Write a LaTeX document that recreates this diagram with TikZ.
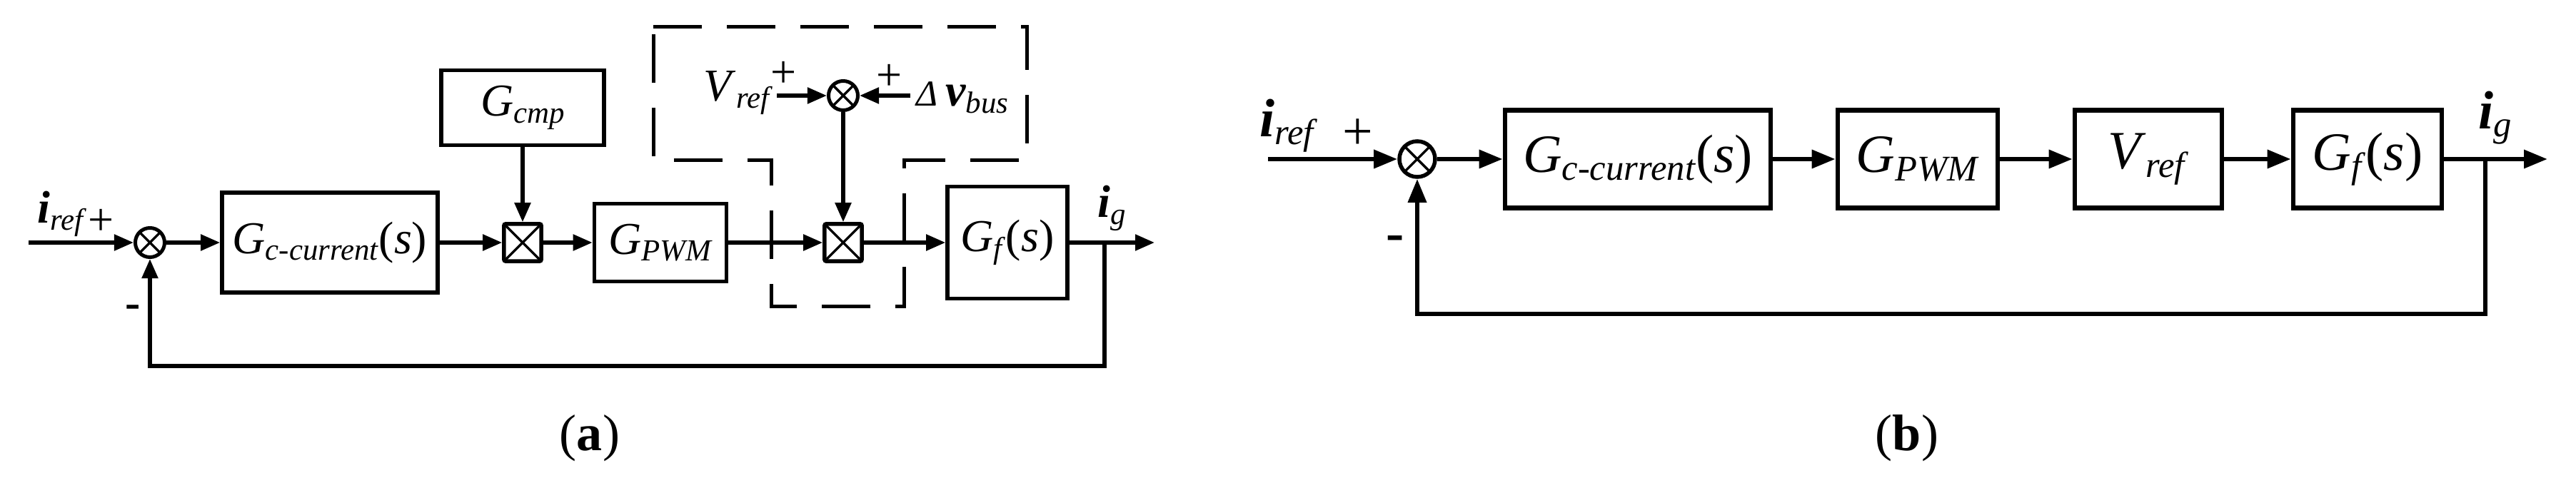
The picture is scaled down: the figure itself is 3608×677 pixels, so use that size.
\documentclass[tikz,border=0pt]{standalone}
\usepackage{fontspec}
\setmainfont{Liberation Serif}
\usepackage{graphicx}
\usetikzlibrary{arrows.meta, positioning}
\newcommand{\lowsub}[1]{\raisebox{-0.15em}{\scalebox{0.67}{\textit{#1}}}}
\newcommand{\bi}[1]{{\bfseries\itshape #1}}

\begin{document}
\begin{tikzpicture}[x=0.01cm, y=-0.01cm, every node/.style={inner sep=0pt},
  txtA/.style={font=\fontsize{18.2}{20}\selectfont},
  txtB/.style={font=\fontsize{21.5}{24}\selectfont},
  lineA/.style={line width=0.052cm, -{Triangle[length=0.27cm, width=0.22cm]}},
  lineB/.style={line width=0.064cm, -{Triangle[length=0.33cm, width=0.25cm]}},
  blkA/.style={draw, rectangle, line width=0.055cm, txtA},
  blkB/.style={draw, rectangle, line width=0.065cm, txtB},
  crossing/.style={path picture={\draw[line width=0.035cm]
    (path picture bounding box.south west) -- (path picture bounding box.north east)
    (path picture bounding box.north west) -- (path picture bounding box.south east);}},
  sumA/.style={draw, circle, line width=0.05cm, minimum size=0.41cm, crossing},
  sumB/.style={draw, circle, line width=0.055cm, minimum size=0.50cm, crossing},
  mulA/.style={draw, rectangle, rounded corners=0.02cm, line width=0.055cm, minimum size=0.52cm, crossing},
  dashA/.style={line width=0.05cm, dash pattern=on 0.68cm off 0.35cm}]
  \useasboundingbox (0,0) rectangle (3608,677);

  \coordinate (inA) at (40,340);
  \node[sumA] (s1) at (210,340) {};
  \node[blkA, minimum width=3.02cm, minimum height=1.40cm] (gc) at (462,340) {\textit{G}\lowsub{c-current}(\textit{s})};
  \node[mulA] (m1) at (732,340) {};
  \node[blkA, minimum width=2.28cm, minimum height=1.05cm] (gcmp) at (732,151) {\textit{G}\lowsub{cmp}};
  \node[blkA, minimum width=1.85cm, minimum height=1.09cm] (gpwm) at (925,340) {\textit{G}\lowsub{PWM}};
  \node[mulA] (m2) at (1181,340) {};
  \node[sumA] (s2) at (1181,134) {};
  \node[blkA, minimum width=1.68cm, minimum height=1.57cm] (gf) at (1411,340) {\textit{G}\lowsub{f}(\textit{s})};
  \coordinate (brA) at (1547,340);
  \coordinate (outA) at (1617,340);
  \coordinate (fbA) at (1547,513);
  \coordinate (vin) at (1088,134);
  \coordinate (dvin) at (1275,134);

  \node[txtA] (irefA) at (87,300) {\bi{i}\lowsub{ref}};
  \node[txtA] (plusA) at (142,311) {+};
  \node[txtA] (minusA) at (186,437) {\textbf{-}};
  \node[txtA] (vrefA) at (1034,130) {\textit{V}\lowsub{ref}};
  \node[txtA] (plusV) at (1098,104) {+};
  \node[txtA] (plusD) at (1246,108) {+};
  \node[txtA] (dvbus) at (1348,137) {\scalebox{0.8}{\textit{Δ}}\,\bi{v}\lowsub{bus}};
  \node[txtA] (igA) at (1557,292) {\bi{i}\lowsub{g}};
  \node[font=\fontsize{20.5}{24}\selectfont] (capA) at (826,614) {(\textbf{a})};

  \draw[dashA] (915,38) -- (1438,38) -- (1438,225) -- (1266,225) -- (1266,430)
    -- (1080,430) -- (1080,225) -- (915,225) -- cycle;

  \draw[lineA] (inA) -- (s1);
  \draw[lineA] (s1) -- (gc);
  \draw[lineA] (gc) -- (m1);
  \draw[lineA] (gcmp) -- (m1);
  \draw[lineA] (m1) -- (gpwm);
  \draw[lineA] (gpwm) -- (m2);
  \draw[lineA] (m2) -- (gf);
  \draw[lineA] (gf) -- (outA);
  \draw[lineA] (brA) -- (fbA) -| (s1);
  \draw[lineA] (vin) -- (s2);
  \draw[lineA] (dvin) -- (s2);
  \draw[lineA] (s2) -- (m2);

  \coordinate (inB) at (1776,223);
  \node[sumB] (s3) at (1985,223) {};
  \node[blkB, minimum width=3.72cm, minimum height=1.37cm] (gcB) at (2294,223) {\textit{G}\lowsub{c-current}(\textit{s})};
  \node[blkB, minimum width=2.24cm, minimum height=1.37cm] (gpwmB) at (2686,223) {\textit{G}\lowsub{PWM}};
  \node[blkB, minimum width=2.06cm, minimum height=1.37cm] (vrefB) at (3009,223) {\textit{V}\lowsub{ref}};
  \node[blkB, minimum width=2.08cm, minimum height=1.37cm] (gfB) at (3316,223) {\textit{G}\lowsub{f}(\textit{s})};
  \coordinate (brB) at (3481,223);
  \coordinate (outB) at (3568,223);
  \coordinate (fbB) at (3481,440);

  \node[txtB] (irefB) at (1805,176) {\bi{i}\lowsub{ref}};
  \node[txtB] (plusB) at (1902,188) {+};
  \node[txtB] (minusB) at (1954,341) {\textbf{-}};
  \node[txtB] (igB) at (3495,165) {\bi{i}\lowsub{g}};
  \node[font=\fontsize{20.5}{24}\selectfont] (capB) at (2671,614) {(\textbf{b})};

  \draw[lineB] (inB) -- (s3);
  \draw[lineB] (s3) -- (gcB);
  \draw[lineB] (gcB) -- (gpwmB);
  \draw[lineB] (gpwmB) -- (vrefB);
  \draw[lineB] (vrefB) -- (gfB);
  \draw[lineB] (gfB) -- (outB);
  \draw[lineB] (brB) -- (fbB) -| (s3);
\end{tikzpicture}
\end{document}
